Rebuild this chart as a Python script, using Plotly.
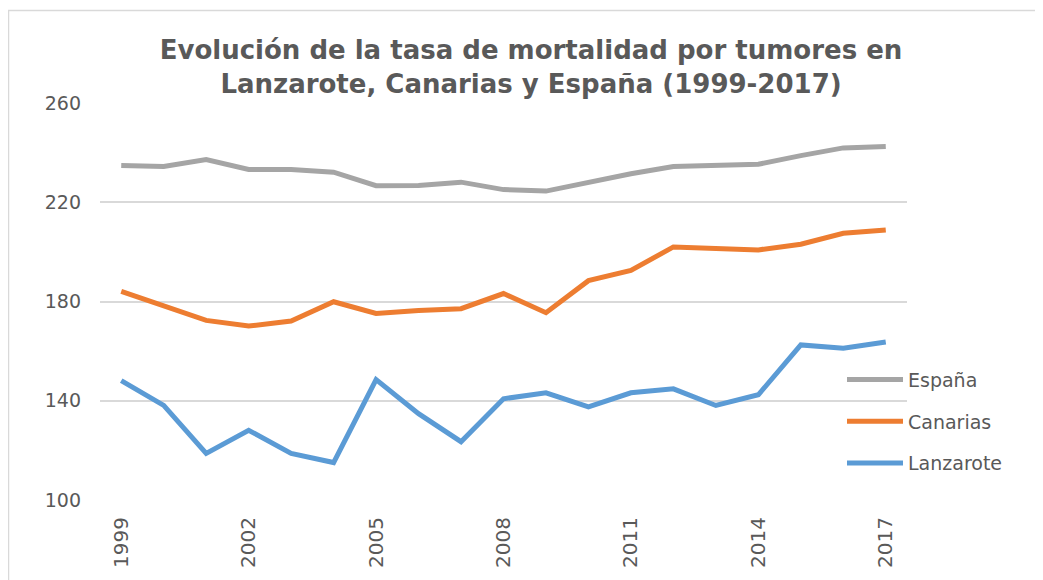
import plotly.graph_objects as go

years = [str(y) for y in range(1999, 2018)]
espana = [234.8, 234.4, 237.2, 233.2, 233.2, 232.1, 226.7, 226.8, 228.1, 225.1,
          224.5, 228.1, 231.5, 234.4, 235.1, 235.3, 238.8, 241.9, 242.5]
canarias = [184.1, 178.1, 172.4, 170.1, 172.1, 179.9, 175.2, 176.4, 177.1, 183.2,
            175.5, 188.4, 192.5, 202.0, 201.3, 200.8, 203.1, 207.5, 208.8]
lanzarote = [148.1, 138.1, 118.8, 128.1, 118.8, 115.1, 148.5, 134.8, 123.5, 140.8,
             143.2, 137.5, 143.2, 144.8, 138.1, 142.4, 162.5, 161.2, 163.7]
tick_years = ["1999", "2002", "2005", "2008", "2011", "2014", "2017"]
y_ticks = [100, 140, 180, 220, 260]

O = 8  # page body margin offset
SW, SH = 1043, 580
W, H = SW - O, SH - O
# plot area in screen pixels
PX0, PX1, PY0, PY1 = 100, 907, 103, 502
L, T = PX0 - O, PY0 - O
R, B = SW - PX1, SH - PY1
pw, ph = PX1 - PX0, PY1 - PY0

def px_x(x):
    return (x - PX0) / pw

def px_y(y):
    return (PY1 - y) / ph

FONT = "Verdana, DejaVu Sans, sans-serif"
TXT = "#595959"

fig = go.Figure()
series = [("España", espana, "#A5A5A5"), ("Canarias", canarias, "#ED7D31"),
          ("Lanzarote", lanzarote, "#5B9BD5")]
for name, vals, col in series:
    fig.add_trace(go.Scatter(x=years, y=vals, name=name, mode="lines",
                             legendgroup=name,
                             line=dict(color=col, width=5)))

fig.update_layout(
    width=W, height=H,
    margin=dict(l=L, r=R, t=T, b=B),
    paper_bgcolor="white", plot_bgcolor="white",
    font=dict(family=FONT, size=19, color=TXT),
    title=dict(text="<b>Evolución de la tasa de mortalidad por tumores en<br>Lanzarote, Canarias y España (1999-2017)</b>",
               x=px_x(531), xref="paper", xanchor="center",
               y=1 - (59 - O) / H, yref="container", yanchor="middle",
               font=dict(family=FONT, size=26, color=TXT)),
    xaxis=dict(type="category", categoryarray=years, range=[-0.5, len(years) - 0.5],
               tickmode="array", tickvals=tick_years, ticktext=tick_years,
               tickangle=-90, showgrid=False, showline=False, zeroline=False,
               ticks="", tickfont=dict(size=20, color=TXT), ticklabelstandoff=12),
    yaxis=dict(range=[100, 260], tickvals=y_ticks, showgrid=True, gridcolor="#D9D9D9",
               gridwidth=1.5, zeroline=False, showline=False, ticks="",
               tickfont=dict(size=19, color=TXT), ticklabelstandoff=18),
    legend=dict(x=px_x(842), xanchor="left", y=px_y(380 - 18), yanchor="top",
                bgcolor="rgba(0,0,0,0)", font=dict(size=19, color=TXT),
                itemwidth=56, tracegroupgap=14),
    showlegend=True,
)

# outer chart border (top and left)
fig.add_shape(type="line", xref="paper", yref="paper",
              x0=px_x(8), x1=px_x(SW + 5), y0=px_y(10), y1=px_y(10),
              line=dict(color="#D9D9D9", width=1.5), layer="below")
fig.add_shape(type="line", xref="paper", yref="paper",
              x0=px_x(8.5), x1=px_x(8.5), y0=px_y(10), y1=px_y(SH + 5),
              line=dict(color="#D9D9D9", width=1.5), layer="below")

fig.write_html("out.html")
